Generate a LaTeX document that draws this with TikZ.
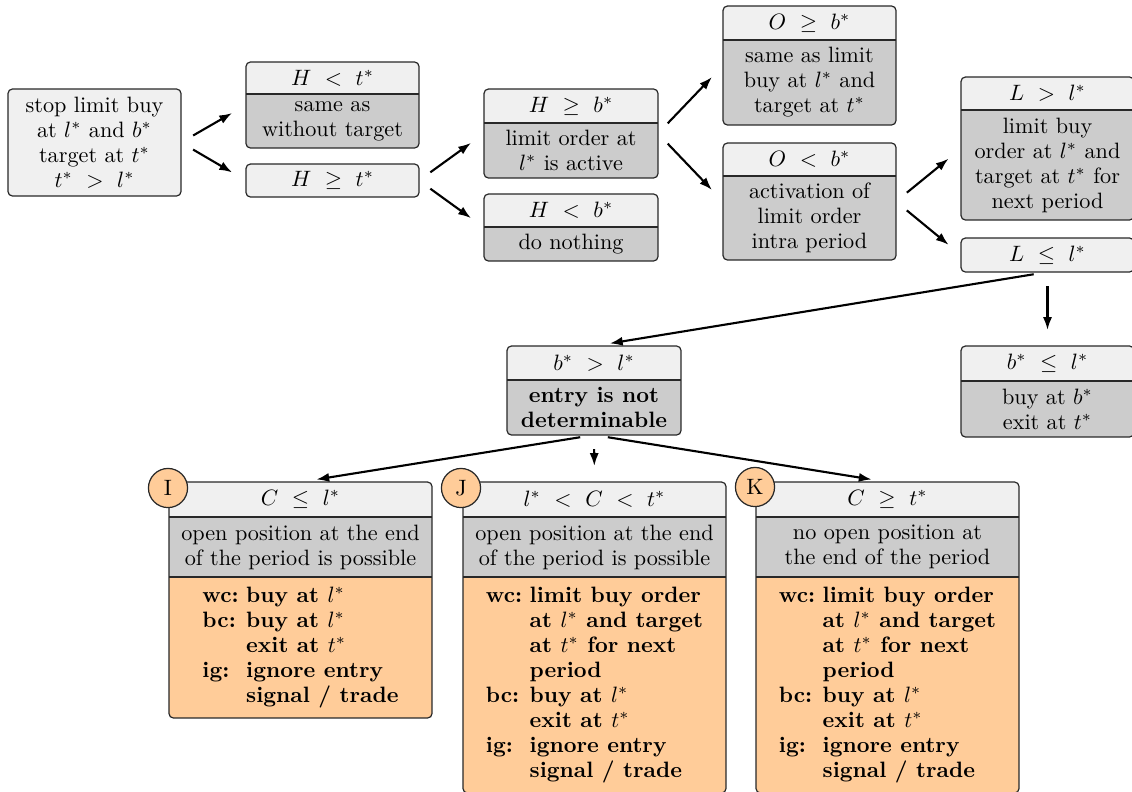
\documentclass[tikz,border=0pt]{standalone}
\usetikzlibrary{arrows.meta,fit}
\pgfdeclarelayer{background}
\pgfsetlayers{background,main}
\definecolor{hdrc}{RGB}{240,240,240}
\definecolor{bdyc}{RGB}{204,204,204}
\definecolor{orgc}{RGB}{255,204,153}
\definecolor{brdc}{RGB}{40,40,40}

\tikzset{
  part/.style={inner sep=0pt, outer sep=0pt, align=center},
  frame/.style={draw=brdc, line width=0.55pt, rounded corners=2pt},
  single/.style={part, frame, fill=hdrc},
  sepline/.style={draw=brdc, line width=0.55pt},
  conn/.style={line width=0.95pt, -{Latex[length=5.8pt,width=4.1pt]}, shorten <=6.3pt, shorten >=7.2pt},
  badge/.style={circle, draw=brdc, line width=0.55pt, fill=orgc, minimum size=17.6pt, inner sep=0pt},
}

\newcommand\twobox[8]{%
  \node[part, minimum width=#4*0.45pt, minimum height=#5*0.45pt] (#1h) at ({#2+#4/2},{#3+#5/2}) {#7};
  \node[part, minimum width=#4*0.45pt, minimum height=#6*0.45pt, anchor=north] (#1b) at (#1h.south) {#8};
  \node[fit=(#1h)(#1b), inner sep=0pt, outer sep=0pt, frame] (#1) {};
  \draw[sepline] (#1h.south west) -- (#1h.south east);
  \begin{pgfonlayer}{background}
    \begin{scope}
      \clip[rounded corners=2pt] (#1.south west) rectangle (#1.north east);
      \fill[hdrc] (#1h.south west) rectangle (#1h.north east);
      \fill[bdyc] (#1b.south west) rectangle (#1b.north east);
    \end{scope}
  \end{pgfonlayer}}

\newcommand\threebox[9]{%
  \node[part, minimum width=263*0.45pt, minimum height=#4*0.45pt] (#1h) at ({#2+131.5},{#3+#4/2}) {#7};
  \node[part, minimum width=263*0.45pt, minimum height=#5*0.45pt, anchor=north] (#1g) at (#1h.south) {#8};
  \node[part, minimum width=263*0.45pt, minimum height=#6*0.45pt, anchor=north] (#1o) at (#1g.south) {#9};
  \node[fit=(#1h)(#1o), inner sep=0pt, outer sep=0pt, frame] (#1) {};
  \draw[sepline] (#1h.south west) -- (#1h.south east);
  \draw[sepline] (#1g.south west) -- (#1g.south east);
  \begin{pgfonlayer}{background}
    \begin{scope}
      \clip[rounded corners=2pt] (#1.south west) rectangle (#1.north east);
      \fill[hdrc] (#1h.south west) rectangle (#1h.north east);
      \fill[bdyc] (#1g.south west) rectangle (#1g.north east);
      \fill[orgc] (#1o.south west) rectangle (#1o.north east);
    \end{scope}
  \end{pgfonlayer}}

\newcommand\casesI{\bfseries\begin{tabular}{@{}l@{\hspace{3.4pt}}l@{}}
wc: & buy at $l^*$\\
bc: & buy at $l^*$\\
    & exit at $t^*$\\
ig: & ignore entry\\
    & signal / trade
\end{tabular}}
\newcommand\casesJK{\bfseries\begin{tabular}{@{}l@{\hspace{3.4pt}}l@{}}
wc: & limit buy order\\
    & at $l^*$ and target\\
    & at $t^*$ for next\\
    & period\\
bc: & buy at $l^*$\\
    & exit at $t^*$\\
ig: & ignore entry\\
    & signal / trade
\end{tabular}}

\begin{document}
\begin{tikzpicture}[x=0.45pt, y=-0.45pt, font=\fontsize{10}{11.25}\selectfont]
\useasboundingbox (0,0) rectangle (1132,791);

% start box
\node[single, minimum width=173*0.45pt, minimum height=107*0.45pt] (A) at (94.5,142.5)
  {stop limit buy\\at $l^*$ and $b^*$\\target at $t^*$\\$t^*\ >\ l^*$};

\twobox{B}{246}{62}{173}{32}{54}{$H\ <\ t^*$}{same as\\without target}
\node[single, minimum width=173*0.45pt, minimum height=33*0.45pt] (C) at (332.5,180.5) {$H\ \geq\ t^*$};

\twobox{D}{484}{89}{174}{34}{55}{$H\ \geq\ b^*$}{limit order at\\$l^*$ is active}
\twobox{E}{484}{194}{174}{33}{34}{$H\ <\ b^*$}{do nothing}

\twobox{F}{723}{6}{173}{34}{85}{$O\ \geq\ b^*$}{same as limit\\buy at $l^*$ and\\target at $t^*$}
\twobox{G}{723}{143}{173}{33}{84}{$O\ <\ b^*$}{activation of\\limit order\\intra period}

\twobox{H}{961}{77}{173}{33}{110}{$L\ >\ l^*$}{limit buy\\order at $l^*$ and\\target at $t^*$ for\\next period}
\node[single, minimum width=173*0.45pt, minimum height=34*0.45pt] (L) at (1047.5,255) {$L\ \leq\ l^*$};

\twobox{M}{507}{346}{174}{34}{55}{$b^*\ >\ l^*$}{\textbf{entry is not}\\\textbf{determinable}}
\twobox{N}{961}{346}{173}{35}{56}{$b^*\ \leq\ l^*$}{buy at $b^*$\\exit at $t^*$}

\threebox{I}{169}{482}{35}{60}{141}{$C\ \leq\ l^*$}{open position at the end\\of the period is possible}{\casesI}
\threebox{J}{463}{482}{35}{60}{216}{$l^*\ <\ C\ <\ t^*$}{open position at the end\\of the period is possible}{\casesJK}
\threebox{K}{756}{482}{35}{60}{216}{$C\ \geq\ t^*$}{no open position at\\the end of the period}{\casesJK}

\node[badge] (cI) at (168,488) {I};
\node[badge] (cJ) at (461,488) {J};
\node[badge] (cK) at (755,487) {K};

% connectors
\draw[conn] (A.east) -- (B.west);
\draw[conn] (A.east) -- (C.west);
\draw[conn] (C.east) -- (D.west);
\draw[conn] (C.east) -- (E.west);
\draw[conn] (D.east) -- (F.west);
\draw[conn] (D.east) -- (G.west);
\draw[conn] (G.east) -- (H.west);
\draw[conn] (G.east) -- (L.west);
\draw[conn] (L.south) -- (M.north);
\draw[conn] (L.south) -- (N.north);
\draw[conn] (M.south) -- (I.north);
\draw[conn] (M.south) -- (J.north);
\draw[conn] (M.south) -- (K.north);
\end{tikzpicture}
\end{document}
